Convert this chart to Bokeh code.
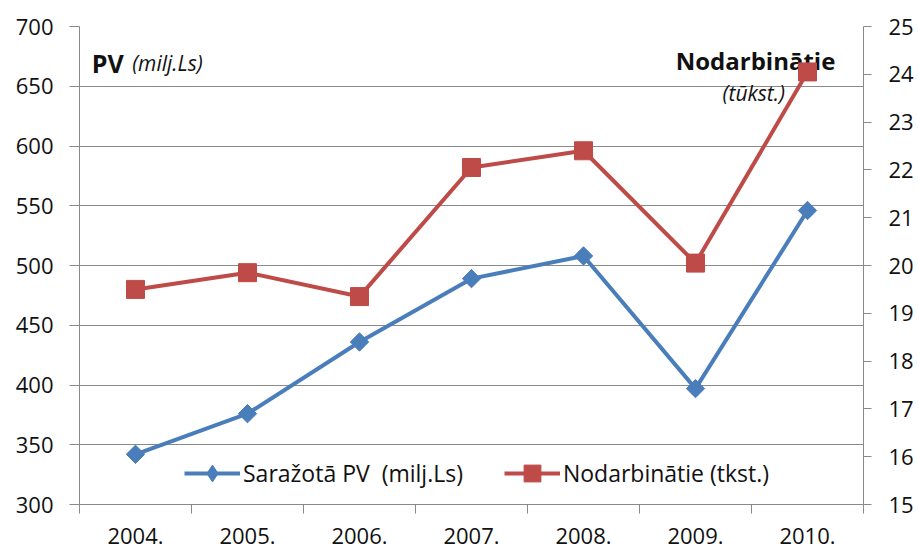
import math
from bokeh.plotting import figure
from bokeh.models import (Range1d, LinearAxis, FixedTicker, Legend, LegendItem,
                          Label, ColumnDataSource)
from bokeh.embed import file_html
from bokeh.resources import INLINE

# ---- data ----
years = ["2004.", "2005.", "2006.", "2007.", "2008.", "2009.", "2010."]
pv = [342, 376, 436, 489, 508, 397, 546]            # Saražotā PV (milj.Ls)
nod = [19.5, 19.85, 19.35, 22.05, 22.4, 20.05, 24.05]  # Nodarbinātie (tūkst.)
left_ticks = [300, 350, 400, 450, 500, 550, 600, 650, 700]
right_ticks = [15, 16, 17, 18, 19, 20, 21, 22, 23, 24, 25]

BLUE = "#4A7EBB"
RED = "#BE4B48"
GRID = "#8a8a8a"
FONT = "Open Sans"
TXT = "#111111"

xc = [i + 0.5 for i in range(len(years))]
bounds = list(range(len(years) + 1))

src = ColumnDataSource(dict(x=xc, year=years, pv=pv, nod=nod))

p = figure(width=918, height=557, output_backend="svg", toolbar_location=None,
           x_range=Range1d(0, len(years)), y_range=Range1d(left_ticks[0], left_ticks[-1]),
           min_border_left=79, min_border_right=55, min_border_top=26, min_border_bottom=53,
           outline_line_color=None, background_fill_color="white")
p.extra_y_ranges = {"nod": Range1d(right_ticks[0], right_ticks[-1])}

# x axis: labels at centres, ticks at boundaries (minor ticks)
xa = p.xaxis[0]
xa.ticker = FixedTicker(ticks=xc, minor_ticks=bounds)
xa.major_label_overrides = {x: y for x, y in zip(xc, years)}
xa.major_tick_out = 0
xa.major_tick_in = 0
xa.minor_tick_out = 9
xa.minor_tick_in = 0
xa.minor_tick_line_color = GRID
xa.axis_line_color = GRID
xa.major_label_standoff = 14
xa.major_label_text_font = FONT
xa.major_label_text_font_size = "22px"
xa.major_label_text_color = TXT

# left axis
ya = p.yaxis[0]
ya.ticker = FixedTicker(ticks=left_ticks)
ya.minor_tick_line_color = None
ya.major_tick_out = 10
ya.major_tick_in = 0
ya.major_tick_line_color = GRID
ya.axis_line_color = GRID
ya.major_label_standoff = 16
ya.major_label_text_font = FONT
ya.major_label_text_font_size = "22px"
ya.major_label_text_color = TXT

# right axis
ra = LinearAxis(y_range_name="nod", ticker=FixedTicker(ticks=right_ticks))
ra.minor_tick_line_color = None
ra.major_tick_out = 8
ra.major_tick_in = 0
ra.major_tick_line_color = GRID
ra.axis_line_color = GRID
ra.major_label_standoff = 17
ra.major_label_text_font = FONT
ra.major_label_text_font_size = "22px"
ra.major_label_text_color = TXT
p.add_layout(ra, "right")

p.xgrid.visible = False
p.ygrid.ticker = FixedTicker(ticks=left_ticks)
p.ygrid.grid_line_color = GRID
p.ygrid.grid_line_width = 1

# title-like labels
p.add_layout(Label(x=0.11, y=669.6, text="PV", text_font=FONT, text_font_style="bold",
                   text_font_size="25px", text_color=TXT, text_baseline="alphabetic",
                   level="underlay"))
p.add_layout(Label(x=0.47, y=669.6, text="(milj.Ls)", text_font=FONT, text_font_style="italic",
                   text_font_size="21px", text_color=TXT, text_baseline="alphabetic",
                   level="underlay"))
p.add_layout(Label(x=6.036, y=671.3, text="Nodarbinātie", text_font=FONT, text_font_style="bold",
                   text_font_size="24px", text_color=TXT, text_baseline="alphabetic",
                   text_align="center", level="underlay"))
p.add_layout(Label(x=6.02, y=644.5, text="(tūkst.)", text_font=FONT, text_font_style="italic",
                   text_font_size="21px", text_color=TXT, text_baseline="alphabetic",
                   text_align="center", level="underlay"))

# series
p.line("x", "pv", source=src, line_color=BLUE, line_width=4)
p.scatter("x", "pv", source=src, marker="square", angle=math.pi / 4, size=13,
          fill_color=BLUE, line_color=BLUE)
p.line("x", "nod", source=src, y_range_name="nod", line_color=RED, line_width=4)
p.scatter("x", "nod", source=src, y_range_name="nod", marker="square", size=18,
          fill_color=RED, line_color=RED)

# legend (legend-only renderers with no plotted data)
nan = float("nan")
empty = ColumnDataSource(dict(x=[nan], y=[nan]))
l1 = p.line("x", "y", source=empty, line_color=BLUE, line_width=4)
m1 = p.scatter("x", "y", source=empty, marker="diamond", fill_color=BLUE, line_color=BLUE)
l2 = p.line("x", "y", source=empty, line_color=RED, line_width=4)
m2 = p.scatter("x", "y", source=empty, marker="square", fill_color=RED, line_color=RED)

legend = Legend(items=[LegendItem(label="Saražotā PV  (milj.Ls)", renderers=[l1, m1]),
                       LegendItem(label="Nodarbinātie (tkst.)", renderers=[l2, m2])],
                orientation="horizontal", location=(105, 10),
                glyph_width=56, glyph_height=42, label_height=42,
                label_standoff=3, spacing=41, padding=0, margin=0,
                border_line_color=None, background_fill_alpha=0,
                label_text_font=FONT, label_text_font_size="23px", label_text_color=TXT)
p.add_layout(legend, "center")

open("out.html", "w").write(file_html(p, INLINE))
